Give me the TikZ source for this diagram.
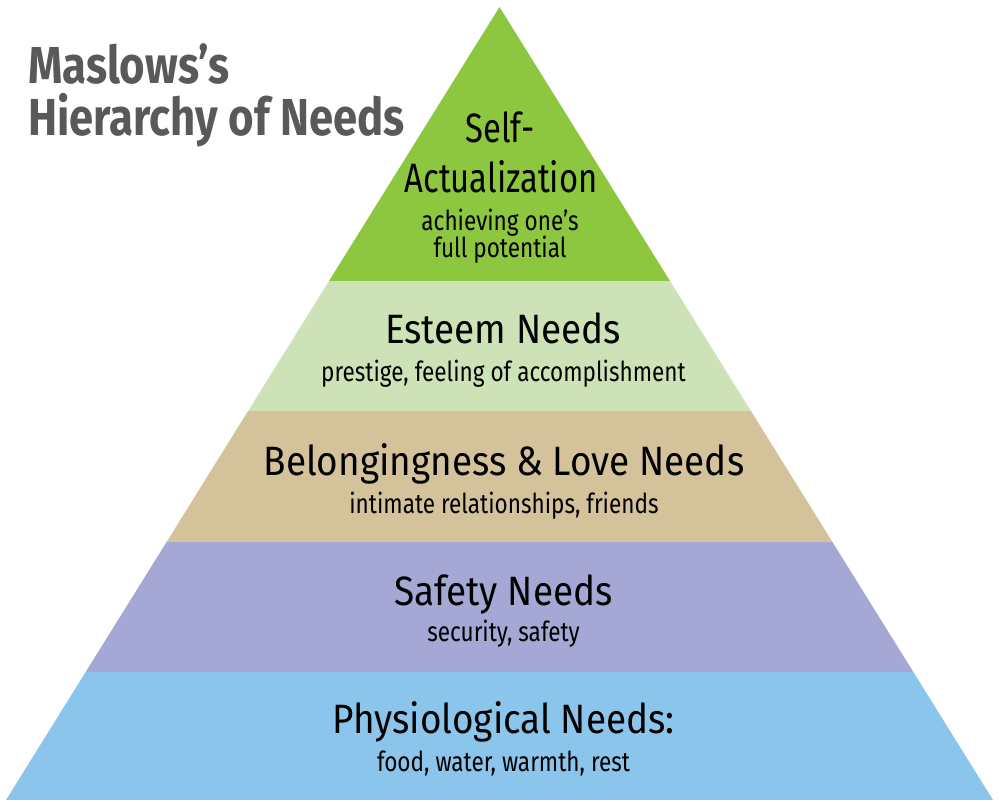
\documentclass[tikz,border=0pt]{standalone}
\usepackage{fontspec}
\setmainfont{Fira Sans}[FakeStretch=0.82]
\newfontfamily\headfont{Fira Sans}[FakeStretch=0.9]
\newfontfamily\topfont{Fira Sans}[FakeStretch=0.8]
\newfontfamily\titlefont{Fira Sans}[FakeStretch=0.84,BoldFont={* Bold}]
\definecolor{cSelf}{RGB}{141,198,63}
\definecolor{cEsteem}{RGB}{205,227,183}
\definecolor{cLove}{RGB}{212,194,155}
\definecolor{cSafety}{RGB}{165,168,212}
\definecolor{cPhys}{RGB}{140,197,235}
\definecolor{cTitle}{RGB}{88,89,91}
\begin{document}
\begin{tikzpicture}[x=1pt,y=-1pt,
  head/.style={anchor=base,inner sep=0pt,font=\headfont\fontsize{41}{43}\selectfont,text=black},
  tophead/.style={anchor=base,inner sep=0pt,font=\topfont\fontsize{41}{43}\selectfont,text=black},
  sub/.style={anchor=base,inner sep=0pt,font=\fontsize{27.5}{29}\selectfont,text=black},
  ttl/.style={anchor=base west,inner sep=0pt,font=\titlefont\bfseries\fontsize{52}{54}\selectfont,text=cTitle}]
\useasboundingbox (0,0) rectangle (1000,806);
\coordinate (apex) at (499.5,7);
\coordinate (bl) at (6,800);
\coordinate (br) at (993,800);
\begin{scope}
  \clip (apex) -- (bl) -- (br) -- cycle;
  \fill[cSelf]   (0,0)   rectangle (1000,281);
  \fill[cEsteem] (0,281) rectangle (1000,411);
  \fill[cLove]   (0,411) rectangle (1000,541.5);
  \fill[cSafety] (0,541.5) rectangle (1000,672);
  \fill[cPhys]   (0,672) rectangle (1000,800);
\end{scope}
\node[ttl] (t1) at (28,83) {Maslows’s};
\node[ttl] (t2) at (28,135) {Hierarchy of Needs};
\node[tophead] (s1) at (500,142) {Self-};
\node[tophead] (s2) at (501,192.5) {Actualization};
\node[sub] (s3) at (500,230) {achieving one’s};
\node[sub] (s4) at (500,257) {full potential};
\node[head] (e1) at (503,343) {Esteem Needs};
\node[sub] (e2) at (503.5,381) {prestige, feeling of accomplishment};
\node[head] (l1) at (504,475.5) {Belongingness \& Love Needs};
\node[sub] (l2) at (504,513.5) {intimate relationships, friends};
\node[head] (f1) at (503.5,605.5) {Safety Needs};
\node[sub] (f2) at (503.5,641.5) {security, safety};
\node[head] (p1) at (503.5,733) {Physiological Needs:};
\node[sub] (p2) at (503.5,771.5) {food, water, warmth, rest};
\end{tikzpicture}
\end{document}
